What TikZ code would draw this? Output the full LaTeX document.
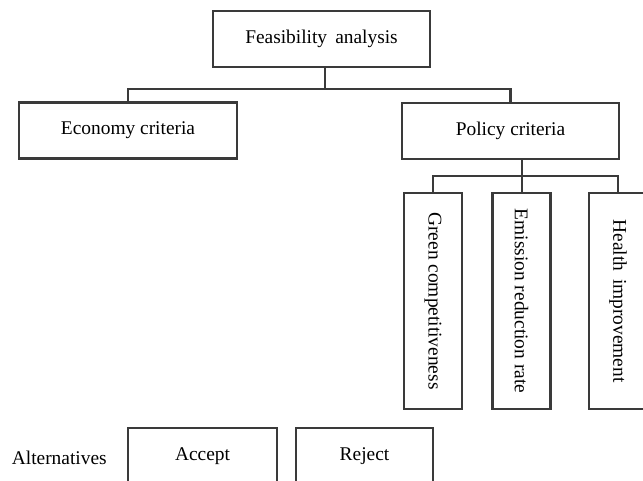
\documentclass[tikz,border=0pt]{standalone}
\usepackage{fontspec}
\setmainfont{Liberation Serif}
\usepackage{graphicx}
\definecolor{linegray}{RGB}{58,58,58}

\begin{document}
\begin{tikzpicture}[x=0.5pt,y=-0.5pt,line width=1.2pt,draw=linegray,
    every node/.style={font=\fontsize{9.7}{11}\selectfont},
    box/.style={draw=linegray,minimum width=#1,minimum height=28pt,inner sep=0pt},
    vbox/.style={draw=linegray,minimum width=29pt,minimum height=108pt,inner sep=0pt}]
    \useasboundingbox (0,0) rectangle (643,481);
    \clip (0,0) rectangle (643,481);

    \node[box=108.5pt] (feas) at (321.5,39) {Feasibility\, analysis};
    \node[box=109pt] (econ) at (128,130.5) {Economy criteria};
    \node[box=108.5pt] (policy) at (510.5,131) {Policy criteria};
    \node[vbox] (green) at (433,301) {\rotatebox{-90}{Green competitiveness}};
    \node[vbox] (emission) at (521.5,301) {\rotatebox{-90}{Emission reduction rate}};
    \node[vbox] (health) at (618,301) {\rotatebox{-90}{Health\, improvement}};
    \node[anchor=west] (alt) at (4,458) {Alternatives};
    \node[box=74.5pt] (accept) at (202.5,456) {Accept};
    \node[box=68.5pt] (reject) at (364.5,456) {Reject};

    \coordinate (fbus) at (325,89);
    \coordinate (pbus) at (522,176);
    \draw (econ.north) |- (fbus) -| (policy.north)
    (fbus) -- (feas.south -| fbus);
    \draw (green.north) |- (pbus) -| (health.north)
    (policy.south -| pbus) -- (emission.north -| pbus);
\end{tikzpicture}
\end{document}
